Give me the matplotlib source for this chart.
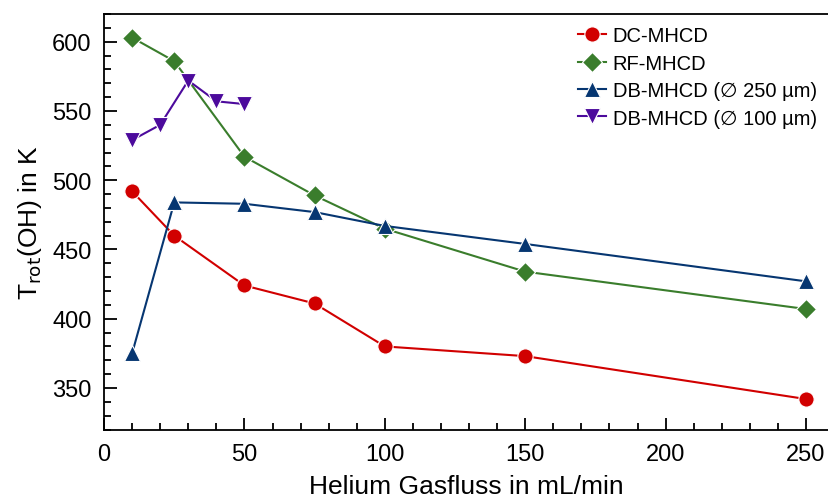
import matplotlib
matplotlib.use("Agg")
import matplotlib.pyplot as plt
from matplotlib.ticker import MultipleLocator

plt.rcParams['font.family'] = ['Liberation Sans', 'DejaVu Sans']

# helium flow (mL/min) and rotational temperature T_rot(OH) in K
flow = [10, 25, 50, 75, 100, 150, 250]
dc_mhcd = [492, 460, 424, 411, 380, 373, 342]
rf_mhcd = [603, 586, 517, 489, 465, 434, 407]
db_250 = [375, 484, 483, 477, 467, 454, 427]
flow_db100 = [10, 20, 30, 40, 50]
db_100 = [529, 540, 572, 557, 555]

labels = ['DC-MHCD', 'RF-MHCD', 'DB-MHCD (\u2205 250 \u00b5m)', 'DB-MHCD (\u2205 100 \u00b5m)']
colors = ['#d10000', '#3a7d2c', '#063671', '#4c0a9c']

fig = plt.figure(figsize=(8.29, 5.02), dpi=100)
ax = fig.add_axes([0.1255, 0.1424, 0.8745, 0.8276])

kw = dict(lw=1.5, ms=11, mec='white', mew=0.8)
ax.plot(flow, dc_mhcd, '-o', color=colors[0], label=labels[0], **kw)
ax.plot(flow, rf_mhcd, '-D', color=colors[1], label=labels[1], lw=1.5, ms=10.5, mec='white', mew=0.8)
ax.plot(flow, db_250, '-^', color=colors[2], label=labels[2], **kw)
ax.plot(flow_db100, db_100, '-v', color=colors[3], label=labels[3], **kw)

ax.set_xlim(0, 258.2)
ax.set_ylim(320, 620)
ax.xaxis.set_major_locator(MultipleLocator(50))
ax.xaxis.set_minor_locator(MultipleLocator(10))
ax.yaxis.set_major_locator(MultipleLocator(50))
ax.yaxis.set_minor_locator(MultipleLocator(10))
ax.tick_params(which='both', direction='in', width=1.3, labelsize=17, colors='black')
ax.tick_params(which='major', length=9)
ax.tick_params(which='minor', length=5)
ax.tick_params(axis='x', which='major', pad=10)
ax.tick_params(axis='y', which='major', pad=9)
ax.spines['right'].set_visible(False)
for s in ['left', 'bottom', 'top']:
    ax.spines[s].set_linewidth(1.3)

ax.set_xlabel('Helium Gasfluss in mL/min', fontsize=19, labelpad=6)
ax.set_ylabel('T$_{\\mathrm{rot}}$(OH) in K', fontsize=19, labelpad=6)

ax.legend(loc='upper right', bbox_to_anchor=(1.0, 1.0), frameon=False, fontsize=14.5,
          handlelength=1.4, handletextpad=0.35, labelspacing=0.42, borderaxespad=0.2)

fig.savefig('out.png', dpi=100)
